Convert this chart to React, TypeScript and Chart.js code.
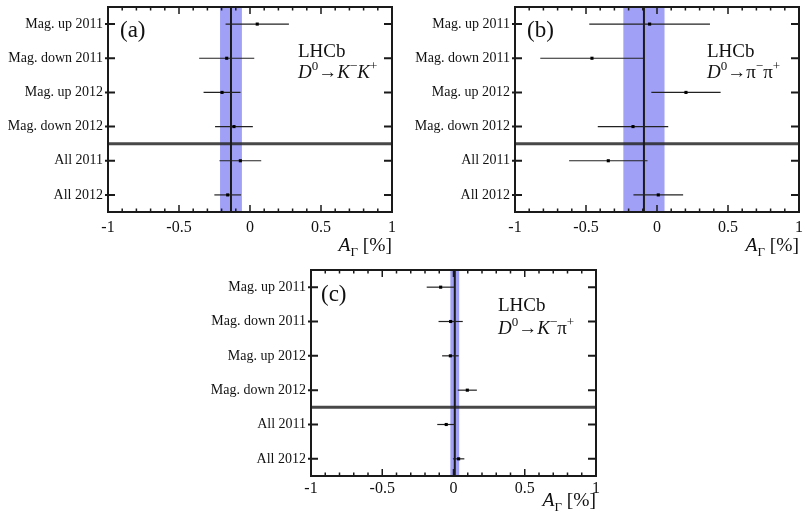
import React, { useEffect, useRef } from "react";
import Chart from "chart.js/auto";

const categories = ["Mag. up 2011", "Mag. down 2011", "Mag. up 2012", "Mag. down 2012", "All 2011", "All 2012"];
const xTickValues = [-1, -0.5, 0, 0.5, 1];

const kkValues = [0.051, -0.164, -0.197, -0.113, -0.068, -0.157];
const kkErrors = [0.223, 0.194, 0.13, 0.133, 0.147, 0.094];
const kkAverage = -0.134;
const kkAverageError = 0.077;

const pipiValues = [-0.052, -0.458, 0.204, -0.169, -0.343, 0.009];
const pipiErrors = [0.425, 0.364, 0.244, 0.248, 0.276, 0.175];
const pipiAverage = -0.092;
const pipiAverageError = 0.145;

const kpiValues = [-0.09, -0.02, -0.022, 0.097, -0.051, 0.036];
const kpiErrors = [0.098, 0.085, 0.058, 0.067, 0.063, 0.04];
const kpiAverage = 0.009;
const kpiAverageError = 0.031;

const SERIF = "'Liberation Serif', 'Times New Roman', serif";

type Piece = { t: string; italic?: boolean; sup?: boolean; sub?: boolean };

function drawPieces(ctx: CanvasRenderingContext2D, pieces: Piece[], x: number, y: number, size: number, align: "left" | "right") {
  const fontFor = (p: Piece) => {
    const s = p.sup || p.sub ? Math.round(size * 0.68) : size;
    return `${p.italic ? "italic " : ""}${s}px ${SERIF}`;
  };
  let total = 0;
  for (const p of pieces) {
    ctx.font = fontFor(p);
    total += ctx.measureText(p.t).width;
  }
  let cx = align === "right" ? x - total : x;
  ctx.textAlign = "left";
  ctx.textBaseline = "alphabetic";
  for (const p of pieces) {
    ctx.font = fontFor(p);
    const dy = p.sup ? -size * 0.4 : p.sub ? size * 0.25 : 0;
    ctx.fillText(p.t, cx, y + dy);
    cx += ctx.measureText(p.t).width;
  }
}

type PanelProps = {
  left: number; top: number; width: number; height: number;
  yWidth: number; xHeight: number; padRight: number; padTop: number; xTickPad: number;
  values: number[]; errors: number[]; average: number; averageError: number;
  tag: string; tagDx: number; tagDy: number;
  lhcbDx: number; lhcbDy: number; decayDy: number; decay: Piece[];
  titleDy: number;
};

function Panel(props: PanelProps) {
  const ref = useRef<HTMLCanvasElement | null>(null);
  useEffect(() => {
    const canvas = ref.current!;
    const p = props;
    const decorPlugin = {
      id: "decor",
      beforeDatasetsDraw(chart: any) {
        const { ctx, chartArea: ca, scales } = chart;
        const xs = scales.x, ys = scales.y;
        ctx.save();
        const b1 = xs.getPixelForValue(p.average - p.averageError);
        const b2 = xs.getPixelForValue(p.average + p.averageError);
        ctx.fillStyle = "rgb(160,160,247)";
        ctx.fillRect(b1, ca.top, b2 - b1, ca.bottom - ca.top);
        const sy = ys.getPixelForValue(3.5);
        ctx.strokeStyle = "rgba(40,40,40,0.85)";
        ctx.lineWidth = 3;
        ctx.beginPath();
        ctx.moveTo(ca.left, sy);
        ctx.lineTo(ca.right, sy);
        ctx.stroke();
        const ax = xs.getPixelForValue(p.average);
        ctx.strokeStyle = "#1a1a1a";
        ctx.lineWidth = 2;
        ctx.beginPath();
        ctx.moveTo(ax, ca.top);
        ctx.lineTo(ax, ca.bottom);
        ctx.stroke();
        ctx.strokeStyle = "#222";
        ctx.lineWidth = 1.2;
        p.values.forEach((v, i) => {
          const y = ys.getPixelForValue(i);
          ctx.beginPath();
          ctx.moveTo(xs.getPixelForValue(v - p.errors[i]), y);
          ctx.lineTo(xs.getPixelForValue(v + p.errors[i]), y);
          ctx.stroke();
        });
        ctx.restore();
      },
      afterDatasetsDraw(chart: any) {
        const { ctx, chartArea: ca, scales } = chart;
        const xs = scales.x, ys = scales.y;
        ctx.save();
        ctx.strokeStyle = "#1a1a1a";
        ctx.lineWidth = 1.5;
        for (let k = -10; k <= 10; k++) {
          const v = k / 10;
          const px = xs.getPixelForValue(v);
          const len = k % 5 === 0 ? 7 : 3.5;
          ctx.beginPath();
          ctx.moveTo(px, ca.bottom);
          ctx.lineTo(px, ca.bottom - len);
          ctx.moveTo(px, ca.top);
          ctx.lineTo(px, ca.top + len);
          ctx.stroke();
        }
        ctx.lineWidth = 2;
        categories.forEach((_, i) => {
          const py = ys.getPixelForValue(i);
          ctx.beginPath();
          ctx.moveTo(ca.left - 3, py);
          ctx.lineTo(ca.left + 7, py);
          ctx.moveTo(ca.right + 1, py);
          ctx.lineTo(ca.right - 8, py);
          ctx.stroke();
        });
        ctx.lineWidth = 2;
        ctx.strokeRect(ca.left, ca.top, ca.right - ca.left, ca.bottom - ca.top);
        ctx.fillStyle = "#111";
        ctx.font = `23px ${SERIF}`;
        ctx.textAlign = "left";
        ctx.textBaseline = "alphabetic";
        ctx.fillText(p.tag, ca.left + p.tagDx, ca.top + p.tagDy);
        ctx.font = `19px ${SERIF}`;
        ctx.fillText("LHCb", ca.right - p.lhcbDx, ca.top + p.lhcbDy);
        drawPieces(ctx, p.decay, ca.right - p.lhcbDx, ca.top + p.decayDy, 19, "left");
        drawPieces(ctx, [{ t: "A", italic: true }, { t: "Γ", sub: true }, { t: " [%]" }], ca.right, ca.bottom + p.titleDy, 19.5, "right");
        ctx.restore();
      },
    };

    const chart = new Chart(canvas, {
      type: "scatter",
      data: {
        datasets: [
          {
            data: p.values.map((v, i) => ({ x: v, y: i })),
            pointStyle: "rect",
            pointRadius: 2.2,
            backgroundColor: "#000",
            borderColor: "#000",
            borderWidth: 0,
          },
        ],
      },
      options: {
        responsive: false,
        animation: false,
        devicePixelRatio: 1,
        layout: { padding: { left: 0, right: p.padRight, top: p.padTop, bottom: 0 } },
        plugins: { legend: { display: false }, tooltip: { enabled: false } },
        scales: {
          x: {
            type: "linear",
            min: -1,
            max: 1,
            afterFit(scale: any) {
              scale.height = p.xHeight;
              scale.paddingLeft = 0; scale.paddingRight = 0; scale.paddingTop = 0; scale.paddingBottom = 0;
            },
            afterBuildTicks(scale: any) { scale.ticks = xTickValues.map((v) => ({ value: v })); },
            grid: { display: false, drawTicks: false },
            border: { display: false },
            ticks: {
              padding: p.xTickPad,
              color: "#111",
              font: { family: SERIF, size: 16 },
              maxRotation: 0,
              callback: (v: any) => String(v),
            },
          },
          y: {
            type: "linear",
            min: -0.5,
            max: 5.5,
            reverse: true,
            afterFit(scale: any) {
              scale.width = p.yWidth;
              scale.paddingLeft = 0; scale.paddingRight = 0; scale.paddingTop = 0; scale.paddingBottom = 0;
            },
            afterBuildTicks(scale: any) { scale.ticks = categories.map((_, i) => ({ value: i })); },
            grid: { display: false, drawTicks: false },
            border: { display: false },
            ticks: {
              padding: 5,
              autoSkip: false,
              color: "#111",
              font: { family: SERIF, size: 14 },
              callback: (v: any) => categories[v as number] ?? "",
            },
          },
        },
      },
      plugins: [decorPlugin],
    } as any);
    return () => chart.destroy();
  }, []);
  return (
    <canvas
      ref={ref}
      width={props.width}
      height={props.height}
      style={{ position: "absolute", left: props.left, top: props.top, width: props.width, height: props.height }}
    />
  );
}

export default function App() {
  return (
    <div style={{ position: "fixed", left: 0, top: 0, width: 803, height: 518, background: "#fff", overflow: "hidden" }}>
      <Panel
        left={0} top={0} width={400} height={258}
        yWidth={108} xHeight={46} padRight={8} padTop={7} xTickPad={6}
        values={kkValues} errors={kkErrors} average={kkAverage} averageError={kkAverageError}
        tag="(a)" tagDx={12} tagDy={30}
        lhcbDx={94} lhcbDy={50} decayDy={71}
        decay={[{ t: "D", italic: true }, { t: "0", sup: true }, { t: "→" }, { t: "K", italic: true }, { t: "−", sup: true }, { t: "K", italic: true }, { t: "+", sup: true }]}
        titleDy={39}
      />
      <Panel
        left={403} top={0} width={400} height={258}
        yWidth={112} xHeight={46} padRight={4} padTop={7} xTickPad={6}
        values={pipiValues} errors={pipiErrors} average={pipiAverage} averageError={pipiAverageError}
        tag="(b)" tagDx={12} tagDy={30}
        lhcbDx={92} lhcbDy={50} decayDy={71}
        decay={[{ t: "D", italic: true }, { t: "0", sup: true }, { t: "→" }, { t: "π" }, { t: "−", sup: true }, { t: "π" }, { t: "+", sup: true }]}
        titleDy={39}
      />
      <Panel
        left={200} top={258} width={403} height={260}
        yWidth={111} xHeight={42} padRight={7} padTop={12} xTickPad={3}
        values={kpiValues} errors={kpiErrors} average={kpiAverage} averageError={kpiAverageError}
        tag="(c)" tagDx={10} tagDy={31}
        lhcbDx={98} lhcbDy={41} decayDy={64}
        decay={[{ t: "D", italic: true }, { t: "0", sup: true }, { t: "→" }, { t: "K", italic: true }, { t: "−", sup: true }, { t: "π" }, { t: "+", sup: true }]}
        titleDy={30}
      />
    </div>
  );
}
